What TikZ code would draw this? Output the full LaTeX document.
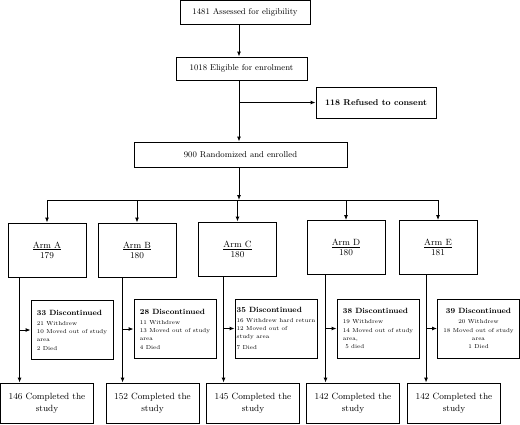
\documentclass[tikz,border=0pt]{standalone}
\usepackage{fontspec}
\usetikzlibrary{arrows.meta}

\begin{document}
\begin{tikzpicture}[
      x=1pt, y=-1pt,
      >={Latex[length=5pt,width=4pt]},
      every node/.style={draw, line width=0.9pt, align=center, inner sep=2pt, font=\fontsize{8.5}{10}\selectfont},
      flow/.style={minimum height=24pt},
      arm/.style={minimum width=78pt, minimum height=54pt, font=\fontsize{9}{10}\selectfont},
      disc/.style={minimum width=82pt, minimum height=59pt, inner sep=1pt, font=\fontsize{5.8}{8.2}\selectfont},
      done/.style={minimum width=93pt, minimum height=40pt, font=\fontsize{9}{11.5}\selectfont},
      link/.style={line width=0.9pt}
    ]
    \useasboundingbox (0,0) rectangle (520,424);
    \node[flow, minimum width=130pt] (assess) at (245,12) {1481 Assessed for eligibility};
    \node[flow, minimum width=131pt, minimum height=23pt] (elig) at (241.5,68.5) {1018 Eligible for enrolment};
    \node[minimum width=120pt, minimum height=31pt, font=\fontsize{8.5}{10}\selectfont\bfseries] (refuse) at (376,102.5) {118 Refused to consent};
    \node[flow, minimum width=213pt, minimum height=25pt] (rand) at (240.5,154.5) {900 Randomized and enrolled};
    \coordinate (spine) at (239,105);
    \coordinate (hub) at (239,200);

    \node[arm] (armA) at (47,250) {\underline{Arm A}\\179};
    \node[arm] (armB) at (137,250) {\underline{Arm B}\\180};
    \node[arm] (armC) at (237.5,249) {\underline{Arm C}\\180};
    \node[arm] (armD) at (346,247.5) {\underline{Arm D}\\180};
    \node[arm] (armE) at (438,247.5) {\underline{Arm E}\\181};

    \node[disc, align=left] (discA) at (72,330) {{\fontsize{7.6}{9}\selectfont\bfseries 33 Discontinued}\\[2pt]21 Withdrew\\10 Moved out of study\\area\\2 Died};
    \node[disc, align=left] (discB) at (175,329) {{\fontsize{7.6}{9}\selectfont\bfseries 28 Discontinued}\\[2pt]11 Withdrew\\13 Moved out of study\\area\\4 Died};
    \node[disc, align=left] (discC) at (276,328.5) {{\fontsize{7.6}{9}\selectfont\bfseries 35 Discontinued}\\[2pt]16 Withdrew hard return\\12 Moved out of\\study area\\[3pt]7 Died};
    \node[disc, align=left] (discD) at (378,328.5) {{\fontsize{7.6}{9}\selectfont\bfseries 38 Discontinued}\\[2pt]19 Withdrew\\14 Moved out of study\\area,\\\ 5 died};
    \node[disc] (discE) at (478.5,328.5) {{\fontsize{7.6}{9}\selectfont\bfseries 39 Discontinued}\\[2pt]20 Withdrew\\18 Moved out of study\\area\\1 Died};

    \node[done] (doneA) at (47,403) {146 Completed the\\study};
    \node[done] (doneB) at (152.5,403) {152 Completed the\\study};
    \node[done] (doneC) at (253,403) {145 Completed the\\study};
    \node[done] (doneD) at (353,403) {142 Completed the\\study};
    \node[done] (doneE) at (454,403) {142 Completed the\\study};

    \draw[link,->] (assess.south -| spine) -- (elig.north -| spine);
    \draw[link,->] (elig.south -| spine) -- (rand.north -| spine);
    \draw[link,->] (spine |- refuse.west) -- (refuse.west);
    \draw[link,->] (rand.south -| spine) -- (hub);
    \draw[link] (armA.north |- hub) -- (armE.north |- hub);
    \foreach \a in {A,B,C,D,E} {
      \coordinate (t\a) at ([xshift=-11pt]disc\a.west);
      \draw[link,->] (arm\a.north |- hub) -- (arm\a.north);
      \draw[link,->] (t\a |- arm\a.south) -- (t\a |- done\a.north);
      \draw[link,->] (t\a) -- (disc\a.west);
    }
    \end{tikzpicture}
\end{document}
